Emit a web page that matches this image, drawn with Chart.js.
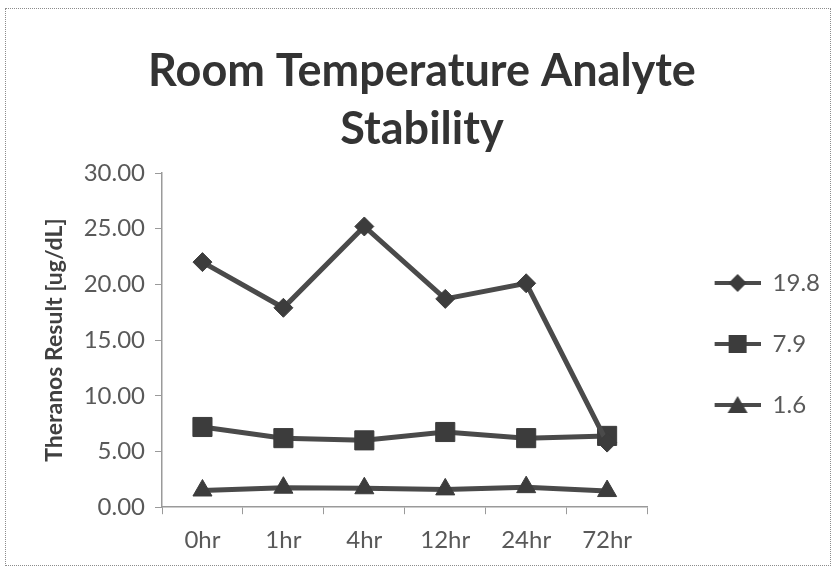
<!DOCTYPE html>
<html>
<head>
<meta charset="utf-8">
<script src="https://cdn.jsdelivr.net/npm/chart.js@4.4.1/dist/chart.umd.min.js"></script>
<style>
    html, body { margin: 0; padding: 0; background: #fff; }
    #wrap { position: relative; width: 836px; height: 572px; }
    #frame { position: absolute; left: 5px; top: 8px; width: 824px; height: 556px; border: 1px dotted #8c8c8c; pointer-events: none; }
</style>
</head>
<body>
<div id="wrap">
    <canvas id="stabilityChart" width="836" height="572"></canvas>
    <div id="frame"></div>
</div>
<script>
const timepoints = ["0hr", "1hr", "4hr", "12hr", "24hr", "72hr"];
const seriesNames = ["19.8", "7.9", "1.6"];
const high = [22.0, 17.9, 25.2, 18.7, 20.1, 5.8];
const mid = [7.2, 6.2, 6.0, 6.75, 6.2, 6.4];
const low = [1.5, 1.75, 1.7, 1.6, 1.8, 1.45];

const lineColor = "#4a4a4a";
const markColor = "#3c3c3c";
const textColor = "#595959";
const axisColor = "#9a9a9a";

// legend swatch: empty gap on the left, then a short line with the marker in the middle
const swatchGap = 30;
function swatch(shape) {
    const c = document.createElement("canvas");
    c.width = swatchGap + 46;
    c.height = 24;
    const g = c.getContext("2d");
    g.translate(swatchGap, 0);
    g.strokeStyle = lineColor;
    g.lineWidth = 4;
    g.beginPath();
    g.moveTo(0, 12);
    g.lineTo(46, 12);
    g.stroke();
    g.fillStyle = markColor;
    g.beginPath();
    if (shape === "rectRot") {
        g.moveTo(23, 3); g.lineTo(32, 12); g.lineTo(23, 21); g.lineTo(14, 12);
    } else if (shape === "rect") {
        g.rect(14, 3, 18, 18);
    } else {
        g.moveTo(23, 3); g.lineTo(33, 20); g.lineTo(13, 20);
    }
    g.closePath();
    g.fill();
    return c;
}

function series(label, data, style, radius) {
    return {
        label: label,
        data: data,
        borderColor: lineColor,
        backgroundColor: markColor,
        borderWidth: 5,
        pointStyle: style,
        pointRadius: radius,
        pointHoverRadius: radius,
        pointBackgroundColor: markColor,
        pointBorderColor: markColor,
        pointBorderWidth: 1,
        tension: 0
    };
}

const styles = ["rectRot", "rect", "triangle"];
const swatches = styles.map(swatch);

const ctx = document.getElementById("stabilityChart").getContext("2d");

new Chart(ctx, {
    type: "line",
    data: {
        labels: timepoints,
        datasets: [
            series(seriesNames[0], high, styles[0], 9.5),
            series(seriesNames[1], mid, styles[1], 13.5),
            series(seriesNames[2], low, styles[2], 11)
        ]
    },
    options: {
        responsive: false,
        animation: false,
        layout: { padding: { left: 14, right: 6, top: 0, bottom: 5 } },
        scales: {
            x: {
                offset: true,
                grid: { display: true, offset: true, drawOnChartArea: false, drawTicks: true, tickLength: 7, color: axisColor },
                border: { display: true, color: axisColor, width: 1.5 },
                ticks: { color: textColor, padding: 12, font: { family: "Lato", size: 24 } }
            },
            y: {
                min: 0,
                max: 30,
                grid: { display: true, drawOnChartArea: false, drawTicks: true, tickLength: 7, color: axisColor },
                border: { display: true, color: axisColor, width: 1.5 },
                ticks: {
                    stepSize: 5,
                    color: textColor,
                    padding: 10,
                    font: { family: "Lato", size: 24 },
                    callback: v => Number(v).toFixed(2)
                },
                title: {
                    display: true,
                    text: "Theranos Result [ug/dL]",
                    color: "#404040",
                    padding: { top: 27, bottom: 0 },
                    font: { family: "Lato", size: 23, weight: "bold" }
                },
                afterFit: s => { s.width = 148; }
            }
        },
        plugins: {
            title: {
                display: true,
                text: ["Room Temperature Analyte", "Stability"],
                color: "#333333",
                padding: { top: 42, bottom: 14 },
                font: { family: "Lato", size: 45, weight: "bold", lineHeight: 1.3 }
            },
            legend: {
                position: "right",
                title: { display: true, text: " ", font: { size: 10 }, padding: { top: 0, bottom: 109 } },
                labels: {
                    usePointStyle: true,
                    pointStyleWidth: swatchGap + 46,
                    padding: 37,
                    color: textColor,
                    font: { family: "Lato", size: 24 },
                    generateLabels: chart => Chart.defaults.plugins.legend.labels.generateLabels(chart)
                        .map((item, i) => ({ ...item, pointStyle: swatches[i], lineWidth: 0 }))
                }
            },
            tooltip: { enabled: false }
        }
    }
});
</script>
</body>
</html>
